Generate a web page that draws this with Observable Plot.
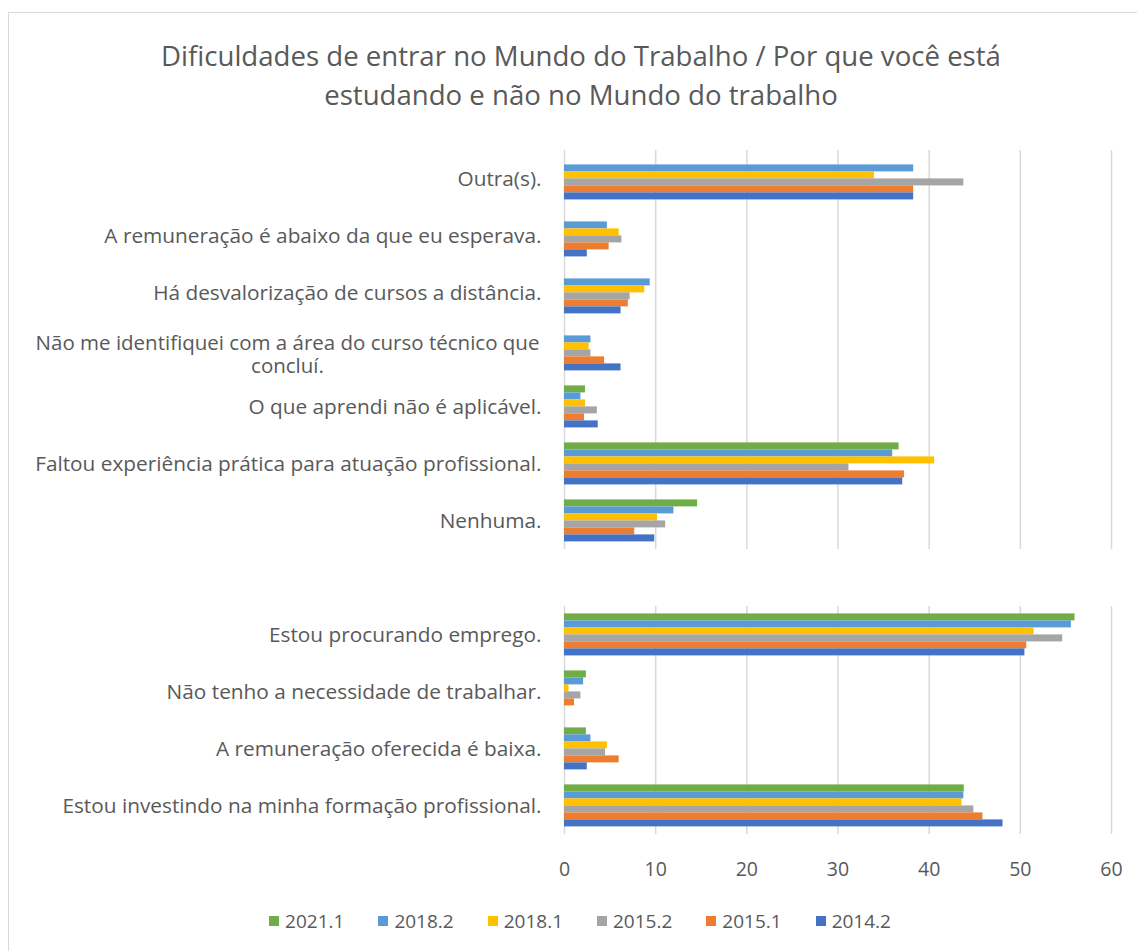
<!DOCTYPE html>
<html>
<head>
<meta charset="utf-8">
<script src="https://cdn.jsdelivr.net/npm/d3@7"></script>
<script src="https://cdn.jsdelivr.net/npm/@observablehq/plot@0.6"></script>
<style>
  html, body { margin: 0; padding: 0; background: #fff; overflow: hidden; }
  body { width: 1137px; height: 951px; position: relative; font-family: "Open Sans", sans-serif; color: #595959; }
  #frame { position: absolute; left: 8px; top: 12px; width: 1200px; height: 1000px; border: 1.5px solid #d9d9d9; box-sizing: border-box; }
  #title { position: absolute; left: 0; width: 1162px; top: 36px; text-align: center; font-size: 27.6px; line-height: 39px; color: #595959; }
  #chart { position: absolute; left: 0; top: 0; }
  #legend { position: absolute; top: 908px; left: 0; width: 1160px; display: flex; justify-content: center; font-size: 19px; color: #595959; }
  .item { display: flex; align-items: center; margin: 0 17px; }
  .sw { width: 10px; height: 10px; margin-right: 6px; }
</style>
</head>
<body>
<div id="frame"></div>
<div id="title">Dificuldades de entrar no Mundo do Trabalho / Por que você está<br>estudando e não no Mundo do trabalho</div>
<div id="chart"></div>
<div id="legend"></div>
<script>
const categories = [
  "Outra(s).",
  "A remuneração é abaixo da que eu esperava.",
  "Há desvalorização de cursos a distância.",
  "Não me identifiquei com a área do curso técnico que concluí.",
  "O que aprendi não é aplicável.",
  "Faltou experiência prática para atuação profissional.",
  "Nenhuma.",
  " ",
  "Estou procurando emprego.",
  "Não tenho a necessidade de trabalhar.",
  "A remuneração oferecida é baixa.",
  "Estou investindo na minha formação profissional."
];
const seriesNames = ["2021.1", "2018.2", "2018.1", "2015.2", "2015.1", "2014.2"];
const seriesColors = ["#70AD47", "#5B9BD5", "#FFC000", "#A5A5A5", "#ED7D31", "#4472C4"];
const v2021_1 = [null, null, null, null, 2.3, 36.7, 14.6, null, 56.0, 2.4, 2.4, 43.85];
const v2018_2 = [38.3, 4.7, 9.4, 2.9, 1.8, 36.0, 12.0, null, 55.6, 2.1, 2.9, 43.8];
const v2018_1 = [34.0, 6.0, 8.8, 2.7, 2.3, 40.6, 10.2, null, 51.5, 0.5, 4.7, 43.6];
const v2015_2 = [43.8, 6.3, 7.2, 2.9, 3.6, 31.2, 11.1, null, 54.65, 1.8, 4.5, 44.9];
const v2015_1 = [38.3, 4.9, 7.0, 4.4, 2.2, 37.3, 7.7, null, 50.7, 1.1, 6.0, 45.9];
const v2014_2 = [38.3, 2.5, 6.2, 6.2, 3.7, 37.1, 9.9, null, 50.5, null, 2.5, 48.1];
const xTicks = [0, 10, 20, 30, 40, 50, 60];

const seriesValues = [v2021_1, v2018_2, v2018_1, v2015_2, v2015_1, v2014_2];
const rows = [];
seriesNames.forEach((s, si) => {
  categories.forEach((c, ci) => {
    const v = seriesValues[si][ci];
    if (v != null) rows.push({category: c, series: s, value: v});
  });
});

const wrapped = categories[3];
const fontFam = "Open Sans, sans-serif";

const chart = Plot.plot({
  width: 1137,
  height: 951,
  marginTop: 144.6,
  marginBottom: 111.5,
  marginLeft: 564,
  marginRight: 26,
  style: {fontFamily: fontFam, color: "#595959", background: "transparent"},
  x: {domain: [0, 60], ticks: xTicks},
  y: {domain: seriesNames, paddingInner: 0, paddingOuter: 0.92},
  fy: {domain: categories, padding: 0},
  color: {domain: seriesNames, range: seriesColors},
  marks: [
    Plot.gridX(xTicks, {stroke: "#d9d9d9", strokeOpacity: 1, strokeWidth: 1.5}),
    Plot.barX(rows, {fy: "category", y: "series", x: "value", fill: "series"}),
    Plot.axisY({ticks: [], label: null, tickSize: 0}),
    Plot.axisFy({anchor: "left", label: null, tickSize: 0, tickPadding: 23, fontSize: 20.8, fill: "#595959",
      tickFormat: d => (d === wrapped || d.trim() === "") ? null : d}),
    Plot.text([wrapped], {fy: d => d, frameAnchor: "left", dx: -277, dy: 4, textAnchor: "middle",
      text: d => d.replace(" concluí.", "\nconcluí."), fontSize: 20.5, lineHeight: 1.1, fill: "#595959"}),
    Plot.axisX(xTicks, {anchor: "bottom", facetAnchor: "bottom", label: null, tickSize: 0, tickPadding: 28, fontSize: 19.5, fill: "#595959"})
  ]
});
document.getElementById("chart").appendChild(chart);

const legend = document.getElementById("legend");
seriesNames.forEach((s, i) => {
  const it = document.createElement("div");
  it.className = "item";
  const sw = document.createElement("div");
  sw.className = "sw";
  sw.style.background = seriesColors[i];
  const t = document.createElement("span");
  t.textContent = s;
  it.appendChild(sw); it.appendChild(t);
  legend.appendChild(it);
});
</script>
</body>
</html>
